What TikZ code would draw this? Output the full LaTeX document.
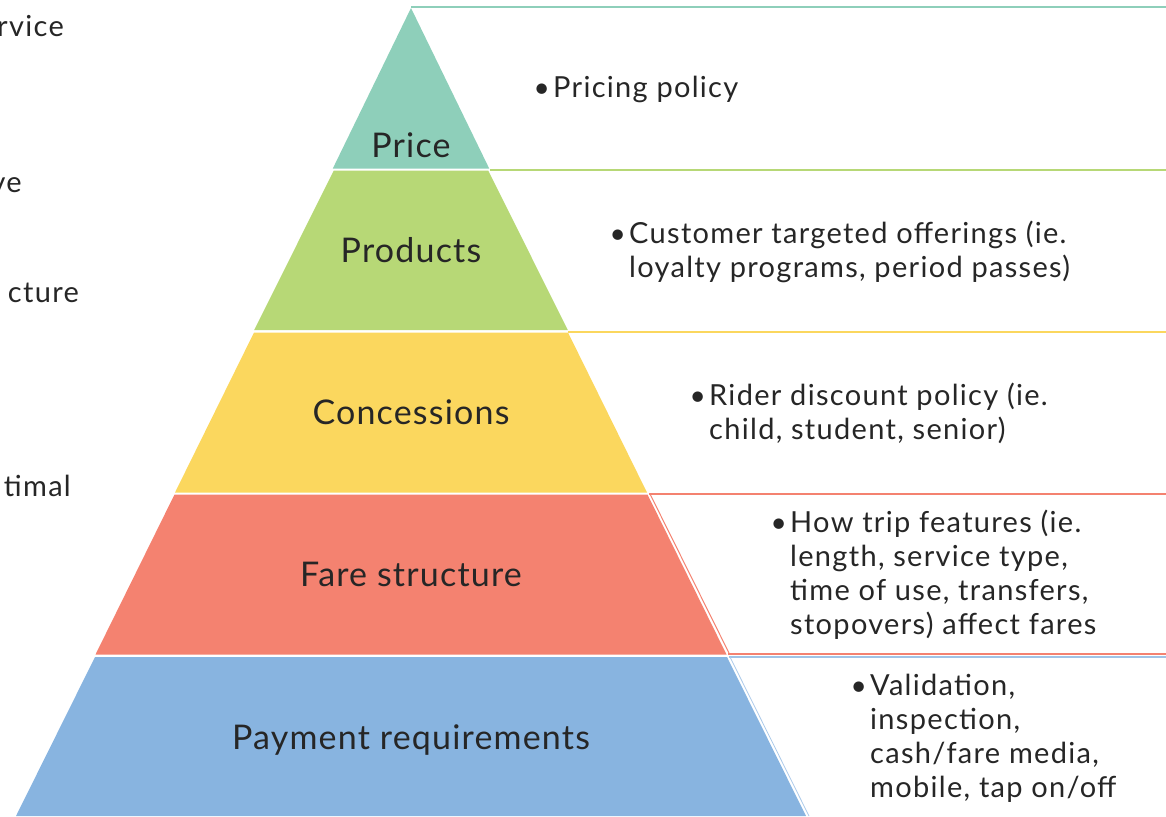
\documentclass[tikz,border=0pt]{standalone}
\usepackage{fontspec}
\setmainfont{Lato}
\newfontfamily\lvlfont[LetterSpace=3.5]{Lato}
\newfontfamily\descfont[LetterSpace=4.5]{Lato}
\definecolor{cteal}{HTML}{8ECFBA}
\definecolor{cgreen}{HTML}{B7D876}
\definecolor{cyellow}{HTML}{FBD75E}
\definecolor{csalmon}{HTML}{F48270}
\definecolor{cblue}{HTML}{88B4E0}
\definecolor{ctext}{HTML}{262626}
\tikzset{
  lvl/.style={font=\lvlfont\fontsize{34}{40}\selectfont, text=ctext, inner sep=0pt, anchor=base},
  desc/.style={font=\descfont\fontsize{29}{34}\selectfont, text=ctext, inner sep=0pt, anchor=base west},
  bul/.style={font=\fontsize{28}{34}\selectfont, text=ctext, inner sep=0pt, anchor=base east},
  side/.style={font=\descfont\fontsize{29}{34}\selectfont, text=ctext, inner sep=0pt, anchor=base east},
  rule/.style={line width=2pt},
}
\begin{document}
\begin{tikzpicture}[x=1pt,y=-1pt]
\useasboundingbox (0,0) rectangle (1166,816);
% pyramid levels
\fill[cteal] (411,8) -- (489.2,168.5) -- (332.8,168.5) -- cycle;
\fill[cgreen] (333.8,170.5) -- (488.2,170.5) -- (567.8,330) -- (254.2,330) -- cycle;
\fill[cyellow] (254.0,332.5) -- (568.0,332.5) -- (647.0,492.5) -- (175.0,492.5) -- cycle;
\fill[csalmon] (174.5,494.5) -- (647.5,494.5) -- (726.5,654.5) -- (95.5,654.5) -- cycle;
\fill[cblue] (95.0,657) -- (727.0,657) -- (806,816) -- (16,816) -- cycle;
% right-hand box outlines
\draw[rule, cteal] (411,7) -- (1166,7);
\draw[rule, cgreen] (490,169.5) -- (1166,169.5);
\draw[rule, cyellow] (568,331.5) -- (1166,331.5);
\draw[rule, csalmon] (649,493.5) -- (1166,493.5);
\draw[line width=1pt, csalmon] (650,494) -- (729,653);
\draw[rule, csalmon] (728,653.5) -- (1166,653.5);
\draw[rule, cblue!80] (729,656.5) -- (1166,656.5);
\draw[line width=0.8pt, cblue!70] (730,657) -- (809,816);
% level labels
\node[lvl] (lprice) at (411,157) {Price};
\node[lvl] (lprod) at (411,262) {Products};
\node[lvl] (lconc) at (411,424) {Concessions};
\node[lvl] (lfare) at (411,586) {Fare structure};
\node[lvl] (lpay) at (411,749) {Payment requirements};
% descriptions
\node[bul] (b1) at (550,97) {•};
\node[desc] (d1) at (553,97) {Pricing policy};
\node[bul] (b2) at (626,243) {•};
\node[desc] (d2a) at (629,243) {Customer targeted offerings (ie.};
\node[desc] (d2b) at (629,277) {loyalty programs, period passes)};
\node[bul] (b3) at (706,405) {•};
\node[desc] (d3a) at (709,405) {Rider discount policy (ie.};
\node[desc] (d3b) at (709,439) {child, student, senior)};
\node[bul] (b4) at (787,532) {•};
\node[desc] (d4a) at (790,532) {How trip features (ie.};
\node[desc] (d4b) at (790,566) {length, service type,};
\node[desc] (d4c) at (790,600) {time of use, transfers,};
\node[desc] (d4d) at (790,634) {stopovers) affect fares};
\node[bul] (b5) at (867,695) {•};
\node[desc] (d5a) at (870,695) {Validation,};
\node[desc] (d5b) at (870,729) {inspection,};
\node[desc] (d5c) at (870,763) {cash/fare media,};
\node[desc] (d5d) at (870,797) {mobile, tap on/off};
% clipped left texts
\node[side] (s1) at (64,37) {rvice};
\node[side] (s2) at (22,192) {ve};
\node[side] (s3) at (79,302) {cture};
\node[side] (s4) at (71,496) {timal};
\end{tikzpicture}
\end{document}
